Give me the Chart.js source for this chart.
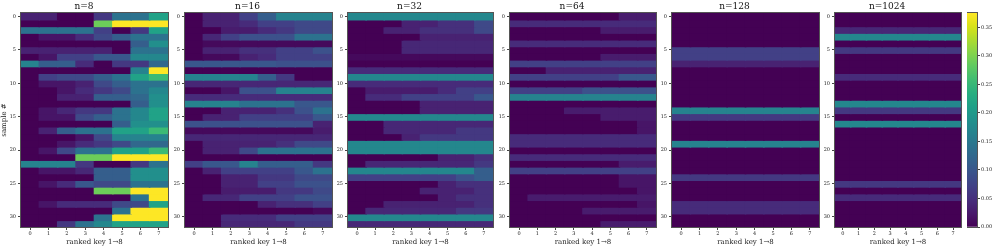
<!DOCTYPE html>
<html lang="en">
<head>
  <meta charset="UTF-8" />
  <title>Ranked key heatmaps</title>
  <script src="https://cdn.jsdelivr.net/npm/chart.js"></script>
  <style>
    * { margin: 0; padding: 0; box-sizing: border-box; }
    body { background: #fff; width: 996px; height: 247px; overflow: hidden; position: relative; }
    canvas { position: absolute; top: 0; }
  </style>
</head>
<body>
  <canvas id="p0"></canvas>
  <canvas id="p1"></canvas>
  <canvas id="p2"></canvas>
  <canvas id="p3"></canvas>
  <canvas id="p4"></canvas>
  <canvas id="p5"></canvas>
  <canvas id="cbar"></canvas>

  <script>
    // ---- data ----
    const keyLabels = ['0', '1', '2', '3', '4', '5', '6', '7'];
    const panelTitles = ['n=8', 'n=16', 'n=32', 'n=64', 'n=128', 'n=1024'];
    const VMAX = 0.375;
    const cbarTicks = [0, 0.05, 0.10, 0.15, 0.20, 0.25, 0.30, 0.35];

    // one row per sample, one value per ranked key
    const n8 = [
      [0.035, 0.035, 0, 0, 0.06, 0.14, 0.14, 0.215],
      [0, 0, 0, 0, 0.29, 0.375, 0.375, 0.375],
      [0.14, 0.14, 0.14, 0.14, 0.07, 0, 0.06, 0.215],
      [0, 0.02, 0.02, 0.045, 0.082, 0.11, 0.14, 0.14],
      [0, 0, 0, 0, 0, 0, 0.11, 0.185],
      [0.035, 0.035, 0.035, 0.035, 0.035, 0, 0.14, 0.14],
      [0, 0.02, 0.07, 0.07, 0.1, 0.1, 0.172, 0.172],
      [0.165, 0.11, 0.11, 0.045, 0, 0.06, 0.06, 0.125],
      [0, 0, 0, 0, 0, 0, 0.165, 0.375],
      [0, 0.07, 0.082, 0.082, 0.11, 0.14, 0.215, 0.255],
      [0, 0.02, 0.02, 0.035, 0.082, 0.11, 0.14, 0.14],
      [0, 0, 0.02, 0.045, 0.06, 0.082, 0.14, 0.172],
      [0, 0, 0.035, 0.035, 0.11, 0.11, 0.125, 0.185],
      [0, 0, 0, 0, 0, 0, 0.11, 0.185],
      [0, 0.02, 0.04, 0.06, 0.06, 0.14, 0.172, 0.215],
      [0, 0.02, 0.02, 0.082, 0.11, 0.14, 0.172, 0.215],
      [0, 0, 0, 0, 0, 0.11, 0.185, 0.185],
      [0, 0.035, 0.11, 0.14, 0.14, 0.215, 0.215, 0.255],
      [0, 0, 0, 0.02, 0.082, 0.165, 0.165, 0.165],
      [0, 0, 0.02, 0.045, 0.06, 0.082, 0.125, 0.125],
      [0, 0.02, 0.082, 0.14, 0.14, 0.215, 0.215, 0.255],
      [0, 0, 0, 0.29, 0.29, 0.375, 0.375, 0.375],
      [0.165, 0.165, 0.165, 0.06, 0, 0, 0.06, 0.14],
      [0, 0.02, 0.02, 0.04, 0.11, 0.11, 0.185, 0.185],
      [0, 0, 0, 0, 0.11, 0.11, 0.185, 0.185],
      [0, 0.02, 0.045, 0.1, 0.082, 0.082, 0.14, 0.14],
      [0, 0, 0, 0, 0.29, 0.29, 0.375, 0.375],
      [0, 0, 0, 0, 0, 0, 0.14, 0.375],
      [0, 0.02, 0.045, 0.045, 0.045, 0.082, 0.082, 0.215],
      [0, 0, 0, 0, 0, 0.14, 0.375, 0.375],
      [0, 0, 0, 0, 0.14, 0.375, 0.375, 0.375],
      [0, 0, 0.06, 0.14, 0.172, 0.215, 0.215, 0.215]
    ];

    const n16 = [
      [0, 0.035, 0.035, 0.07, 0.11, 0.165, 0.165, 0.165],
      [0, 0.035, 0.035, 0.045, 0.07, 0.07, 0.082, 0.082],
      [0, 0, 0.028, 0.028, 0.045, 0.06, 0.082, 0.082],
      [0, 0.04, 0.07, 0.092, 0.092, 0.092, 0.14, 0.14],
      [0, 0.008, 0.008, 0.008, 0.008, 0.008, 0.008, 0.008],
      [0, 0.035, 0.035, 0.05, 0.05, 0.07, 0.07, 0.092],
      [0, 0.008, 0.008, 0.035, 0.045, 0.07, 0.07, 0.07],
      [0.1, 0.1, 0.1, 0.1, 0.1, 0.092, 0.092, 0.092],
      [0, 0, 0, 0, 0, 0, 0, 0],
      [0.165, 0.165, 0.165, 0.165, 0.11, 0.06, 0, 0],
      [0.04, 0.04, 0.04, 0.04, 0.04, 0.04, 0.04, 0.04],
      [0, 0, 0.02, 0.092, 0.092, 0.165, 0.165, 0.165],
      [0.045, 0.045, 0.045, 0.045, 0.045, 0.045, 0.045, 0.045],
      [0.165, 0.165, 0.165, 0.14, 0.14, 0.14, 0.1, 0.1],
      [0, 0, 0.035, 0.035, 0.035, 0.05, 0.092, 0.14],
      [0, 0.035, 0.035, 0.07, 0.07, 0.07, 0.07, 0.1],
      [0.092, 0.092, 0.092, 0.092, 0.092, 0.092, 0.092, 0.035],
      [0.008, 0.008, 0.008, 0.008, 0.008, 0.008, 0.008, 0.028],
      [0.04, 0.04, 0.04, 0.04, 0.04, 0.04, 0.04, 0.04],
      [0, 0.035, 0.035, 0.035, 0.035, 0.05, 0.082, 0.082],
      [0, 0.035, 0.035, 0.082, 0.14, 0.14, 0.14, 0.14],
      [0, 0, 0, 0, 0, 0, 0, 0],
      [0.07, 0.1, 0.1, 0.165, 0.11, 0.11, 0.11, 0.06],
      [0, 0.035, 0.07, 0.07, 0.07, 0.07, 0.1, 0.14],
      [0, 0, 0.035, 0.035, 0.06, 0.06, 0.082, 0.082],
      [0, 0, 0.035, 0.035, 0.07, 0.07, 0.092, 0.092],
      [0, 0, 0.028, 0.028, 0.028, 0.06, 0.06, 0.082],
      [0, 0.04, 0.04, 0.07, 0.07, 0.07, 0.092, 0.092],
      [0, 0, 0, 0, 0.035, 0.05, 0.05, 0.07],
      [0, 0, 0, 0, 0, 0, 0, 0.008],
      [0, 0, 0.045, 0.045, 0.045, 0.07, 0.07, 0.07],
      [0, 0, 0.04, 0.04, 0.04, 0.04, 0.06, 0.06]
    ];

    const n32 = [
      [0.172, 0.172, 0.172, 0.172, 0.172, 0.172, 0.172, 0.172],
      [0, 0, 0, 0.035, 0.035, 0.05, 0.05, 0.082],
      [0, 0, 0.035, 0.035, 0.05, 0.05, 0.05, 0.082],
      [0, 0, 0, 0, 0.035, 0.035, 0.035, 0.035],
      [0, 0, 0, 0.04, 0.04, 0.04, 0.04, 0.04],
      [0, 0, 0, 0.04, 0.04, 0.04, 0.04, 0.04],
      [0.008, 0.008, 0.008, 0.008, 0.008, 0.008, 0.008, 0.008],
      [0, 0, 0, 0, 0, 0, 0, 0],
      [0.045, 0.045, 0.045, 0.045, 0.045, 0.045, 0.045, 0.045],
      [0.172, 0.172, 0.172, 0.172, 0.172, 0.172, 0.172, 0.172],
      [0.045, 0.045, 0.045, 0.045, 0.045, 0.045, 0.045, 0.045],
      [0, 0.028, 0.028, 0.028, 0.028, 0.045, 0.07, 0.07],
      [0, 0.045, 0.045, 0.07, 0.07, 0.07, 0.07, 0.1],
      [0, 0, 0, 0, 0.035, 0.035, 0.035, 0.035],
      [0, 0, 0, 0, 0.035, 0.035, 0.035, 0.035],
      [0.172, 0.172, 0.172, 0.172, 0.172, 0.172, 0.172, 0.172],
      [0, 0, 0.04, 0.04, 0.04, 0.04, 0.04, 0.04],
      [0, 0, 0.04, 0.04, 0.04, 0.04, 0.06, 0.06],
      [0, 0, 0, 0.035, 0.06, 0.06, 0.06, 0.06],
      [0.172, 0.172, 0.172, 0.172, 0.172, 0.172, 0.172, 0.172],
      [0.172, 0.172, 0.172, 0.172, 0.172, 0.172, 0.172, 0.172],
      [0, 0, 0, 0, 0, 0.035, 0.035, 0.05],
      [0, 0.04, 0.04, 0.04, 0.04, 0.04, 0.04, 0.06],
      [0.172, 0.172, 0.172, 0.172, 0.172, 0.172, 0.172, 0.11],
      [0.07, 0.07, 0.07, 0.07, 0.07, 0.07, 0.092, 0.11],
      [0, 0, 0, 0, 0, 0.035, 0.05, 0.05],
      [0, 0, 0, 0, 0.035, 0.035, 0.035, 0.05],
      [0, 0, 0, 0, 0, 0.035, 0.05, 0.05],
      [0, 0, 0.035, 0.035, 0.035, 0.035, 0.035, 0.05],
      [0, 0.04, 0.04, 0.04, 0.04, 0.04, 0.06, 0.06],
      [0.172, 0.172, 0.172, 0.172, 0.172, 0.172, 0.172, 0.172],
      [0.04, 0.04, 0.04, 0.04, 0.04, 0.04, 0.04, 0.04]
    ];

    const n64 = [
      [0, 0, 0, 0, 0, 0, 0.028, 0.028],
      [0.045, 0.045, 0.045, 0.045, 0.045, 0.045, 0.045, 0.045],
      [0, 0, 0, 0, 0, 0.028, 0.028, 0.028],
      [0, 0, 0, 0, 0, 0, 0, 0],
      [0.045, 0.045, 0.045, 0.045, 0.045, 0.045, 0.045, 0.045],
      [0, 0, 0, 0, 0, 0, 0, 0],
      [0, 0, 0, 0, 0, 0.028, 0.028, 0.028],
      [0.07, 0.07, 0.07, 0.07, 0.07, 0.07, 0.07, 0.07],
      [0, 0, 0.035, 0.035, 0.035, 0.035, 0.035, 0.035],
      [0.07, 0.07, 0.07, 0.07, 0.07, 0.07, 0.1, 0.1],
      [0, 0, 0, 0, 0, 0, 0, 0],
      [0.07, 0.07, 0.07, 0.07, 0.092, 0.092, 0.092, 0.092],
      [0.165, 0.165, 0.165, 0.165, 0.165, 0.165, 0.165, 0.165],
      [0, 0, 0, 0, 0, 0, 0, 0],
      [0, 0, 0, 0.028, 0.028, 0.028, 0.028, 0.028],
      [0, 0, 0, 0, 0, 0.028, 0.028, 0.028],
      [0, 0, 0, 0, 0, 0, 0, 0.02],
      [0, 0, 0, 0, 0, 0, 0, 0.02],
      [0.045, 0.045, 0.045, 0.045, 0.045, 0.045, 0.045, 0.045],
      [0.045, 0.045, 0.045, 0.045, 0.045, 0.045, 0.045, 0.045],
      [0, 0, 0, 0, 0, 0, 0, 0],
      [0.045, 0.045, 0.045, 0.045, 0.045, 0.045, 0.045, 0.045],
      [0, 0, 0, 0, 0, 0, 0.028, 0.028],
      [0.07, 0.07, 0.07, 0.07, 0.07, 0.07, 0.07, 0.07],
      [0, 0, 0, 0, 0, 0, 0.02, 0.02],
      [0, 0, 0, 0, 0, 0, 0.02, 0.02],
      [0, 0, 0, 0, 0, 0, 0, 0.02],
      [0, 0.028, 0.028, 0.028, 0.028, 0.028, 0.028, 0.028],
      [0, 0, 0, 0, 0, 0, 0, 0.02],
      [0, 0, 0, 0, 0.028, 0.028, 0.028, 0.028],
      [0, 0, 0, 0, 0, 0, 0, 0],
      [0, 0, 0, 0, 0, 0.028, 0.028, 0.028]
    ];

    // n=128 and n=1024: every key in a sample has the same value
    const n128Rows = [0, 0, 0, 0, 0, 0.07, 0.07, 0.035, 0, 0, 0, 0, 0, 0, 0.165, 0.06,
                      0, 0, 0, 0.165, 0, 0, 0, 0, 0.06, 0, 0, 0, 0.045, 0.045, 0, 0];
    const n1024Rows = [0, 0, 0.04, 0.172, 0, 0.06, 0, 0, 0, 0.045, 0, 0, 0, 0.172, 0.06, 0,
                       0.172, 0, 0, 0, 0, 0, 0, 0, 0, 0.06, 0, 0.045, 0, 0, 0, 0];
    const n128 = n128Rows.map(v => keyLabels.map(() => v));
    const n1024 = n1024Rows.map(v => keyLabels.map(() => v));

    const panels = [n8, n16, n32, n64, n128, n1024];

    // ---- layout (plot area edges in px) ----
    const plotLeft = [21, 185, 348, 510, 672, 835];
    const plotRight = [168, 332, 493, 656, 819, 961];
    const TOP = 13, XAXIS_H = 20, YAXIS_W = 22;

    // viridis stops
    const VIRIDIS = ['#440154', '#48186a', '#472d7b', '#424086', '#3b528b', '#33638d', '#2c728e', '#26828e',
      '#21918c', '#1fa088', '#28ae80', '#3fbc73', '#5ec962', '#84d44b', '#addc30', '#d8e219', '#fde725'];
    function hexRgb(h) {
      return [parseInt(h.slice(1, 3), 16), parseInt(h.slice(3, 5), 16), parseInt(h.slice(5, 7), 16)];
    }
    const VIR_RGB = VIRIDIS.map(hexRgb);
    function viridis(t) {
      t = Math.max(0, Math.min(1, t));
      const p = t * (VIR_RGB.length - 1);
      const i = Math.min(Math.floor(p), VIR_RGB.length - 2);
      const f = p - i;
      const a = VIR_RGB[i], b = VIR_RGB[i + 1];
      const c = a.map((x, k) => Math.round(x + (b[k] - x) * f));
      return `rgb(${c[0]},${c[1]},${c[2]})`;
    }

    const SERIF = "'DejaVu Serif', serif";

    // dark backdrop under the cells so anti-aliased seams don't show white
    const backdrop = {
      id: 'backdrop',
      beforeDatasetsDraw(chart) {
        const a = chart.chartArea, c = chart.ctx;
        c.save();
        c.fillStyle = '#440154';
        c.fillRect(a.left, a.top, a.right - a.left, a.bottom - a.top);
        c.restore();
      }
    };
    const frame = {
      id: 'frame',
      afterDraw(chart) {
        const a = chart.chartArea, c = chart.ctx;
        c.save();
        c.strokeStyle = '#555';
        c.lineWidth = 1;
        c.strokeRect(Math.round(a.left) - 0.5, Math.round(a.top) - 0.5,
          Math.round(a.right - a.left) + 1, Math.round(a.bottom - a.top) + 1);
        c.restore();
      }
    };

    Chart.defaults.font.family = SERIF;
    Chart.defaults.color = '#222';

    panels.forEach((rows, k) => {
      const canvas = document.getElementById('p' + k);
      const yw = k === 0 ? plotLeft[0] : YAXIS_W;
      const left = plotLeft[k] - yw;
      const w = plotRight[k] - plotLeft[k] + yw + 2;
      canvas.width = w;
      canvas.height = 247;
      canvas.style.left = left + 'px';

      new Chart(canvas, {
        type: 'bar',
        data: {
          labels: keyLabels,
          datasets: rows.map((row, i) => ({
            data: row.map(() => [i - 0.5, i + 0.5]),
            backgroundColor: row.map(v => viridis(v / VMAX)),
            borderWidth: 0,
            inflateAmount: 0.8,
            barPercentage: 1,
            categoryPercentage: 1,
            grouped: false
          }))
        },
        options: {
          responsive: false,
          animation: false,
          devicePixelRatio: 1,
          layout: { padding: { left: 0, right: 2, top: 0, bottom: 0 } },
          plugins: {
            legend: { display: false },
            tooltip: { enabled: false },
            title: {
              display: true,
              text: panelTitles[k],
              font: { size: 9, weight: 'normal', lineHeight: 1.2 },
              color: '#111',
              padding: { top: 1, bottom: 1.2 }
            }
          },
          scales: {
            x: {
              offset: true,
              grid: { display: true, drawOnChartArea: false, offset: false, tickLength: 3, color: '#444' },
              border: { display: false },
              ticks: { font: { size: 5 }, padding: 1, maxRotation: 0 },
              title: { display: true, text: 'ranked key 1\u21928', font: { size: 7 }, padding: { top: 0, bottom: 1 } },
              afterFit(s) { s.height = XAXIS_H; }
            },
            y: {
              reverse: true,
              min: -0.5,
              max: 31.5,
              grid: { display: true, drawOnChartArea: false, tickLength: 3, color: '#444' },
              border: { display: false },
              ticks: { stepSize: 5, includeBounds: false, font: { size: 5 }, padding: 2 },
              title: { display: k === 0, text: 'sample #', font: { size: 7 }, padding: { top: 0, bottom: 0 } },
              afterFit(s) { s.width = yw; }
            }
          }
        },
        plugins: [backdrop, frame]
      });
    });

    // ---- colorbar ----
    const cb = document.getElementById('cbar');
    cb.width = 29;
    cb.height = 247;
    cb.style.left = '967px';
    new Chart(cb, {
      type: 'bar',
      data: {
        labels: [''],
        datasets: [{
          data: [[0, VMAX]],
          borderWidth: 0,
          barPercentage: 1,
          categoryPercentage: 1,
          backgroundColor(ctx) {
            const a = ctx.chart.chartArea;
            if (!a) return '#440154';
            const g = ctx.chart.ctx.createLinearGradient(0, a.bottom, 0, a.top);
            VIRIDIS.forEach((c, i) => g.addColorStop(i / (VIRIDIS.length - 1), c));
            return g;
          }
        }]
      },
      options: {
        responsive: false,
        animation: false,
        devicePixelRatio: 1,
        layout: { padding: { left: 0, right: 0, top: TOP, bottom: XAXIS_H } },
        plugins: { legend: { display: false }, tooltip: { enabled: false } },
        scales: {
          x: { display: false },
          y: {
            position: 'right',
            min: 0,
            max: VMAX,
            grid: { display: true, drawOnChartArea: false, tickLength: 3, color: '#444' },
            border: { display: false },
            afterBuildTicks(s) { s.ticks = cbarTicks.map(v => ({ value: v })); },
            ticks: { font: { size: 5 }, padding: 1, callback: v => v.toFixed(2) },
            afterFit(s) { s.width = 19; }
          }
        }
      },
      plugins: [frame]
    });
  </script>
</body>
</html>
